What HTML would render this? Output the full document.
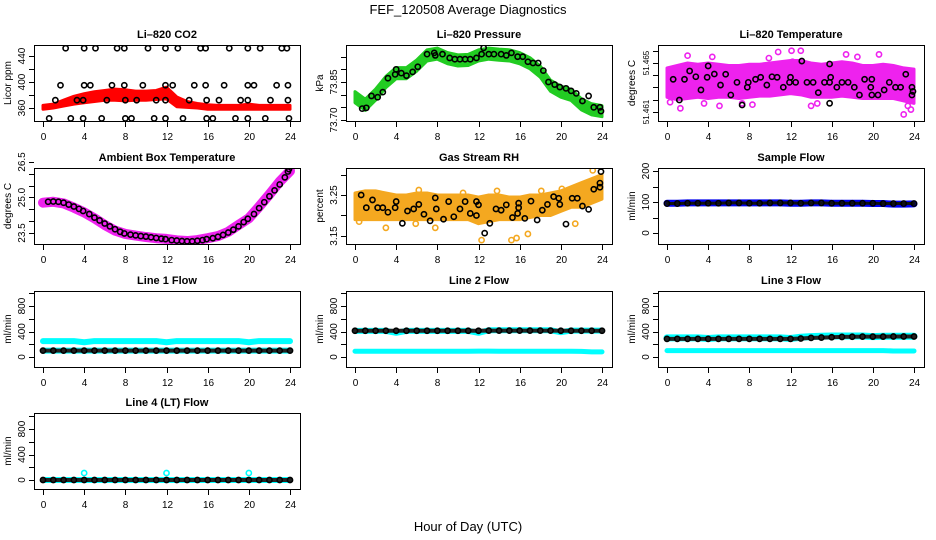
<!DOCTYPE html>
<html><head><meta charset="utf-8"><style>
html,body{margin:0;padding:0;background:#fff;}
svg{display:block;font-family:"Liberation Sans",sans-serif;}
</style></head><body>
<svg id="chart" xmlns="http://www.w3.org/2000/svg" width="936" height="540" viewBox="0 0 936 540">
<rect x="0" y="0" width="936" height="540" fill="#fff"/>
<text x="468" y="14" text-anchor="middle" font-size="13">FEF_120508  Average Diagnostics</text>
<text x="468" y="531" text-anchor="middle" font-size="13">Hour of Day (UTC)</text>
</svg>
<script>
const hours25=[0,1,2,3,4,5,6,7,8,9,10,11,12,13,14,15,16,17,18,19,20,21,22,23,24];
const xTicks=[0,4,8,12,16,20,24];
// CO2
const co2Lo=[358,360,363,366,368,370,372,372,371,372,372,373,374,362,361,360,358,358,358,358,358,358,358,358,358];
const co2Hi=[364,366,372,378,382,385,387,389,388,386,386,387,392,377,370,367,365,364,364,364,366,364,364,364,364];
const co2Levels=[452,395,372,344];
const co2LevelHours=[
[2.2,4.0,5.1,7.2,7.9,10.2,11.9,13.1,15.3,15.8,18.1,19.9,21.1,23.2,23.7],
[1.7,4.0,4.6,6.7,7.9,9.7,11.9,12.6,14.7,15.8,17.6,19.9,20.5,22.7,23.8],
[1.2,3.3,3.9,6.2,8.0,9.1,11.0,11.9,14.2,15.9,17.1,19.2,19.9,22.1,23.8],
[0.6,2.7,3.9,5.7,8.0,8.6,10.8,11.9,13.6,15.9,16.5,18.7,19.9,21.6,23.9]];
// Pressure
const presMid=[73.79,73.76,73.80,73.85,73.885,73.885,73.915,73.955,73.962,73.944,73.935,73.937,73.955,73.962,73.958,73.955,73.944,73.924,73.891,73.835,73.812,73.799,73.762,73.742,73.735];
const presBlackHours=[0.7,1.1,1.6,2.2,2.7,3.2,3.9,4.0,4.5,5.0,5.6,6.1,7.0,7.7,7.8,8.5,9.2,9.7,10.2,10.7,11.2,11.8,12.3,12.5,13.0,13.5,14.2,14.7,15.2,15.8,16.3,16.8,17.3,17.8,18.3,18.8,19.4,19.9,20.5,21.0,21.5,22.1,22.7,23.2,23.8,23.9];
const presBlack=[73.745,73.748,73.795,73.79,73.81,73.865,73.88,73.9,73.885,73.875,73.89,73.91,73.96,73.965,73.955,73.96,73.945,73.94,73.94,73.94,73.94,73.945,73.96,73.985,73.96,73.96,73.96,73.955,73.965,73.95,73.95,73.93,73.925,73.925,73.895,73.85,73.84,73.83,73.825,73.815,73.805,73.775,73.795,73.75,73.75,73.735];
// Li-820 temperature
const tempLo=[51.4622,51.4620,51.4621,51.4622,51.4621,51.4622,51.4622,51.4621,51.4622,51.4623,51.4623,51.4624,51.4625,51.4624,51.4622,51.4622,51.4622,51.4623,51.4622,51.4621,51.4621,51.4621,51.4621,51.4619,51.4617];
const tempHi=[51.4646,51.4648,51.4650,51.4649,51.4650,51.4649,51.4648,51.4648,51.4649,51.4649,51.4650,51.4651,51.4652,51.4652,51.4650,51.4649,51.4650,51.4651,51.4650,51.4648,51.4648,51.4649,51.4648,51.4646,51.4645];
const tempOutHours=[0.3,1.3,2.0,3.6,4.4,5.1,7.3,8.3,12.1,12.2,13.0,14.0,14.6,15.1,17.4,18.5,20.6,23.0,23.4,23.7,9.9,10.8];
const tempOut=[51.4618,51.4613,51.4656,51.4617,51.4655,51.4615,51.4617,51.4616,51.4660,51.4651,51.4660,51.4615,51.4617,51.4670,51.4657,51.4655,51.4657,51.4608,51.4615,51.4612,51.4654,51.4659];
const tempBlackHours=[0.6,1.2,1.7,2.2,2.8,3.3,3.9,4.0,4.6,5.2,5.7,6.2,6.8,7.3,7.8,7.9,8.6,9.1,9.7,10.2,10.7,11.3,11.9,12.0,12.5,13.1,13.6,14.2,14.7,15.3,15.8,15.8,15.8,15.9,16.5,17.0,17.6,18.2,18.7,19.2,19.8,19.9,19.9,20.5,21.1,21.6,22.2,22.7,23.2,23.8,23.8,23.9];
const tempBlack=[51.46367,51.46198,51.46367,51.46435,51.46388,51.46280,51.46383,51.46476,51.46410,51.46320,51.46408,51.46239,51.46342,51.46157,51.46302,51.46342,51.46367,51.46383,51.46320,51.46388,51.46383,51.46302,51.46342,51.46383,51.46342,51.46516,51.46342,51.46342,51.46258,51.46342,51.46342,51.46492,51.46171,51.46383,51.46302,51.46342,51.46342,51.46302,51.46239,51.46367,51.46302,51.46367,51.46239,51.46239,51.46280,51.46342,51.46302,51.46302,51.46408,51.46302,51.46239,51.46268];
// Ambient box temperature
const ambMag=[24.78,24.82,24.75,24.57,24.37,24.12,23.84,23.60,23.46,23.39,23.33,23.28,23.25,23.19,23.16,23.20,23.28,23.37,23.55,23.84,24.12,24.61,25.13,25.67,26.12];
const ambBlackHours=[0.5,1.0,1.5,2.0,2.5,3.0,3.5,3.9,4.5,5.0,5.5,6.0,6.5,7.0,7.5,7.9,8.5,9.0,9.5,10.0,10.5,11.0,11.5,11.9,12.5,13.0,13.5,14.0,14.5,15.0,15.5,15.9,16.5,17.0,17.5,18.0,18.5,19.0,19.5,19.9,20.5,21.0,21.5,22.0,22.5,23.0,23.5,23.8,23.9];
const ambBlack=[24.82,24.83,24.82,24.78,24.70,24.62,24.52,24.43,24.30,24.15,24.03,23.90,23.78,23.66,23.55,23.48,23.43,23.40,23.37,23.35,23.32,23.29,23.26,23.24,23.20,23.18,23.16,23.15,23.15,23.17,23.20,23.24,23.28,23.34,23.42,23.52,23.64,23.78,23.96,24.10,24.30,24.55,24.80,25.05,25.30,25.55,25.85,26.10,26.20];
// Gas stream RH
const rhLo=[3.19,3.19,3.19,3.19,3.19,3.19,3.19,3.19,3.19,3.19,3.19,3.19,3.18,3.185,3.19,3.19,3.19,3.195,3.20,3.20,3.21,3.22,3.22,3.23,3.24];
const rhHi=[3.255,3.26,3.26,3.255,3.25,3.25,3.255,3.255,3.25,3.25,3.25,3.25,3.245,3.25,3.25,3.245,3.245,3.25,3.25,3.255,3.26,3.27,3.28,3.29,3.30];
const rhOutHours=[0.4,1.5,3.0,5.9,6.2,7.8,10.5,12.3,13.8,15.2,15.7,16.8,18.1,20.1,21.4,23.1,23.4];
const rhOut=[3.185,3.195,3.17,3.18,3.262,3.17,3.255,3.14,3.26,3.14,3.145,3.155,3.26,3.265,3.18,3.31,3.28];
const rhBlackHours=[0.6,1.1,1.7,2.2,2.7,3.2,3.9,4.0,4.6,5.1,5.7,6.2,6.7,7.3,7.8,7.9,8.6,9.1,9.6,10.2,10.7,11.2,11.8,11.8,12.0,12.6,13.1,13.7,14.2,14.7,15.3,15.8,15.9,15.9,16.5,17.1,17.7,18.2,18.7,19.3,19.8,19.9,20.5,21.1,21.6,22.1,22.7,23.2,23.8,23.8,23.9];
const rhBlack=[3.250,3.219,3.238,3.219,3.219,3.208,3.219,3.234,3.181,3.211,3.216,3.227,3.203,3.187,3.243,3.216,3.191,3.234,3.197,3.216,3.234,3.205,3.234,3.200,3.226,3.157,3.181,3.216,3.213,3.226,3.195,3.205,3.219,3.230,3.193,3.235,3.189,3.213,3.227,3.246,3.242,3.227,3.179,3.242,3.242,3.223,3.215,3.264,3.279,3.269,3.307];
// Sample flow
const sampleBlue=[96,96,97,97,97,97,97,97,97,97,97,97,96,96,97,97,96,96,96,96,95,95,93,93,94];
const sampleBlack=[95,95,96,96,96,96,97,97,96,96,97,97,97,96,97,97,96,96,96,96,96,95,95,95,95];
// Line flows
const l1Cyan=[250,250,250,250,232,250,250,250,250,250,250,250,232,250,250,250,250,250,250,250,232,250,250,250,250];
const l1Black=[100,100,100,100,100,100,100,100,100,100,100,100,100,100,100,100,100,100,100,100,100,100,100,100,100];
const l2Cyan=[410,410,410,410,380,410,410,410,410,410,410,410,380,420,420,420,420,420,420,420,390,415,415,415,415];
const l2Black=[412,412,412,412,412,412,412,412,412,412,412,412,412,414,414,414,414,414,414,414,412,412,412,412,412];
const l2Low=[90,90,90,90,90,90,90,90,90,90,90,90,92,92,90,90,90,90,90,90,90,90,88,80,80];
const l3Cyan=[300,300,300,300,290,300,300,300,300,300,300,300,290,310,320,325,330,330,330,330,320,325,325,325,325];
const l3Black=[285,285,285,285,285,285,285,285,285,285,285,285,285,290,300,305,310,315,318,320,320,320,322,322,322];
const l3Low=[100,100,100,100,100,100,100,100,100,100,100,100,100,100,100,100,100,100,100,100,100,100,95,95,95];
const l4Black=[0,0,0,0,0,0,0,0,0,0,0,0,0,0,0,0,0,0,0,0,0,0,0,0,0];
const l4OutHours=[4,12,20];
const l4Out=[110,110,110];
const flowTicks=[0,200,400,600,800,1000];
const flowLabels=[0,400,800];

const NS="http://www.w3.org/2000/svg";
const svg=document.getElementById('chart');
const colX=[34,346,658],rowY=[45,168,291,413],BW=266,BH=76,XOFF=9,XS=247/24;
function el(tag,parent){const e=document.createElementNS(NS,tag);parent.appendChild(e);return e;}

function makePanel(c,r,name,title,ylab,v0,py0,ppu,ticks,labels,fmt,lfs){
  const g=el('g',svg);
  
  
  const L=colX[c],T=rowY[r];
  const P={g,L,T,x:h=>L+XOFF+h*XS,y:v=>py0-(v-v0)*ppu};
  const clip=el('clipPath',g);clip.setAttribute('id','clip-'+name);
  const cr=el('rect',clip);cr.setAttribute('x',L);cr.setAttribute('y',T);cr.setAttribute('width',BW);cr.setAttribute('height',BH);
  P.plot=el('g',g);P.plot.setAttribute('clip-path','url(#clip-'+name+')');
  
  
  const t=el('text',g);t.textContent=title;
  
  
  t.setAttribute('x',L+BW/2);t.setAttribute('y',T-7);t.setAttribute('text-anchor','middle');t.setAttribute('font-size','11');t.setAttribute('font-weight','bold');
  const yl=el('text',g);yl.textContent=ylab;
  
  
  const yx=L-23,yy=T+BH/2;
  yl.setAttribute('transform','translate('+yx+','+yy+') rotate(-90)');yl.setAttribute('text-anchor','middle');yl.setAttribute('font-size','10');
  P.finish=function(){
    const b=el('rect',g);
    
    
    b.setAttribute('x',L+0.5);b.setAttribute('y',T+0.5);b.setAttribute('width',BW);b.setAttribute('height',BH);b.setAttribute('fill','none');b.setAttribute('stroke','#000');
    xTicks.forEach(h=>{
      const tk=el('line',g);
      
      
      const xx=Math.round(P.x(h))+0.5;
      tk.setAttribute('x1',xx);tk.setAttribute('x2',xx);tk.setAttribute('y1',T+BH);tk.setAttribute('y2',T+BH+6);tk.setAttribute('stroke','#000');
      const tl=el('text',g);tl.textContent=h;
      
      
      tl.setAttribute('x',xx);tl.setAttribute('y',T+BH+19);tl.setAttribute('text-anchor','middle');tl.setAttribute('font-size','10');
    });
    ticks.forEach(v=>{
      const tk=el('line',g);
      
      
      const yy2=Math.round(P.y(v))+0.5;
      tk.setAttribute('x1',L-5);tk.setAttribute('x2',L);tk.setAttribute('y1',yy2);tk.setAttribute('y2',yy2);tk.setAttribute('stroke','#000');
    });
    labels.forEach(v=>{
      const tl=el('text',g);tl.textContent=fmt?fmt(v):v;
      
      
      const ly=P.y(v);
      tl.setAttribute('transform','translate('+(L-9)+','+ly+') rotate(-90)');tl.setAttribute('text-anchor','middle');tl.setAttribute('font-size',lfs||'10');
    });
  };
  return P;
}
function band(P,hs,lo,hi,color,name){
  const p=el('polygon',P.plot);
  
  
  const pts=hs.map((h,i)=>P.x(h)+','+P.y(hi[i])).concat(hs.slice().reverse().map((h,i)=>P.x(h)+','+P.y(lo[hs.length-1-i])));
  p.setAttribute('points',pts.join(' '));p.setAttribute('fill',color);p.setAttribute('stroke',color);p.setAttribute('stroke-width','3');p.setAttribute('stroke-linejoin','round');
}
function thick(P,hs,vals,color,w,name){
  const p=el('polyline',P.plot);
  
  
  p.setAttribute('points',hs.map((h,i)=>P.x(h)+','+P.y(vals[i])).join(' '));
  p.setAttribute('fill','none');p.setAttribute('stroke',color);p.setAttribute('stroke-width',w);p.setAttribute('stroke-linecap','round');p.setAttribute('stroke-linejoin','round');
}
function pts(P,hs,vals,color,name){
  hs.forEach((h,i)=>{
    const c=el('circle',P.plot);
    
    
    c.setAttribute('cx',P.x(h));c.setAttribute('cy',P.y(vals[i]));c.setAttribute('r','2.6');c.setAttribute('fill','none');c.setAttribute('stroke',color);c.setAttribute('stroke-width','1.6');
  });
}

// CO2
let P=makePanel(0,0,'co2','Li\u2013820 CO2','Licor ppm',360,108,0.65,[360,380,400,420,440],[360,400,440]);
band(P,hours25,co2Lo,co2Hi,'#ff0000','co2-red-band');
co2Levels.forEach((lv,i)=>{pts(P,co2LevelHours[i],co2LevelHours[i].map(()=>lv),'#000','co2-black-point');});
P.finish();
// Pressure
P=makePanel(1,0,'pressure','Li\u2013820 Pressure','kPa',73.70,120,253.3,[73.70,73.75,73.80,73.85,73.90,73.95],[73.70,73.85],v=>v.toFixed(2));
band(P,hours25,presMid.map(v=>v-0.022),presMid.map(v=>v+0.022),'#22cc22','pressure-green-band');
pts(P,presBlackHours,presBlack,'#000','pressure-black-point');
P.finish();
// Temperature
P=makePanel(2,0,'li820-temp','Li\u2013820 Temperature','degrees C',51.461,112,12250,[51.461,51.462,51.463,51.464,51.465,51.466],[51.461,51.465],v=>v.toFixed(3),'8');
band(P,hours25,tempLo,tempHi,'#ee22ee','temp-magenta-band');
pts(P,tempOutHours,tempOut,'#ee22ee','temp-magenta-point');
pts(P,tempBlackHours,tempBlack,'#000','temp-black-point');
P.finish();
// Ambient
P=makePanel(0,1,'ambient','Ambient Box Temperature','degrees C',23.5,233,23.67,[23.5,24,24.5,25,25.5,26,26.5],[23.5,25.0,26.5],v=>v.toFixed(1));
thick(P,hours25,ambMag,'#ee22ee',10,'ambient-magenta-line');
pts(P,ambBlackHours,ambBlack,'#000','ambient-black-point');
P.finish();
// RH
P=makePanel(1,1,'rh','Gas Stream RH','percent',3.15,236,410,[3.15,3.20,3.25,3.30],[3.15,3.25],v=>v.toFixed(2));
band(P,hours25,rhLo,rhHi,'#f4a820','rh-orange-band');
pts(P,rhOutHours,rhOut,'#f4a820','rh-orange-point');
pts(P,rhBlackHours,rhBlack,'#000','rh-black-point');
P.finish();
// Sample flow
P=makePanel(2,1,'sample-flow','Sample Flow','ml/min',0,233,0.31,[0,50,100,150,200],[0,100,200]);
thick(P,hours25,sampleBlue,'#0000ee',7,'sample-blue-line');
thick(P,hours25,sampleBlack,'#111',3,'sample-black-line');
pts(P,hours25,sampleBlack,'#000','sample-black-point');
P.finish();
// Line 1
P=makePanel(0,2,'line1','Line 1 Flow','ml/min',0,357,0.0637,flowTicks,flowLabels);
thick(P,hours25,l1Cyan,'#00ffff',6,'line1-cyan-line');
thick(P,hours25,l1Black,'#00ffff',6,'line1-cyan-low');
thick(P,hours25,l1Black,'#222',4,'line1-black-line');
pts(P,hours25,l1Black,'#000','line1-black-point');
P.finish();
// Line 2
P=makePanel(1,2,'line2','Line 2 Flow','ml/min',0,357,0.0637,flowTicks,flowLabels);
thick(P,hours25,l2Cyan,'#00ffff',6,'line2-cyan-line');
thick(P,hours25,l2Low,'#00ffff',5,'line2-cyan-low');
thick(P,hours25,l2Black,'#222',4,'line2-black-line');
pts(P,hours25,l2Black,'#000','line2-black-point');
P.finish();
// Line 3
P=makePanel(2,2,'line3','Line 3 Flow','ml/min',0,357,0.0637,flowTicks,flowLabels);
thick(P,hours25,l3Cyan,'#00ffff',7,'line3-cyan-line');
thick(P,hours25,l3Low,'#00ffff',5,'line3-cyan-low');
thick(P,hours25,l3Black,'#222',4,'line3-black-line');
pts(P,hours25,l3Black,'#000','line3-black-point');
P.finish();
// Line 4
P=makePanel(0,3,'line4','Line 4 (LT) Flow','ml/min',0,480,0.0637,flowTicks,flowLabels);
thick(P,hours25,l4Black,'#00ffff',6,'line4-cyan-line');
pts(P,l4OutHours,l4Out,'#00ffff','line4-cyan-point');
thick(P,hours25,l4Black,'#222',4,'line4-black-line');
pts(P,hours25,l4Black,'#000','line4-black-point');
P.finish();
</script>
</body></html>
